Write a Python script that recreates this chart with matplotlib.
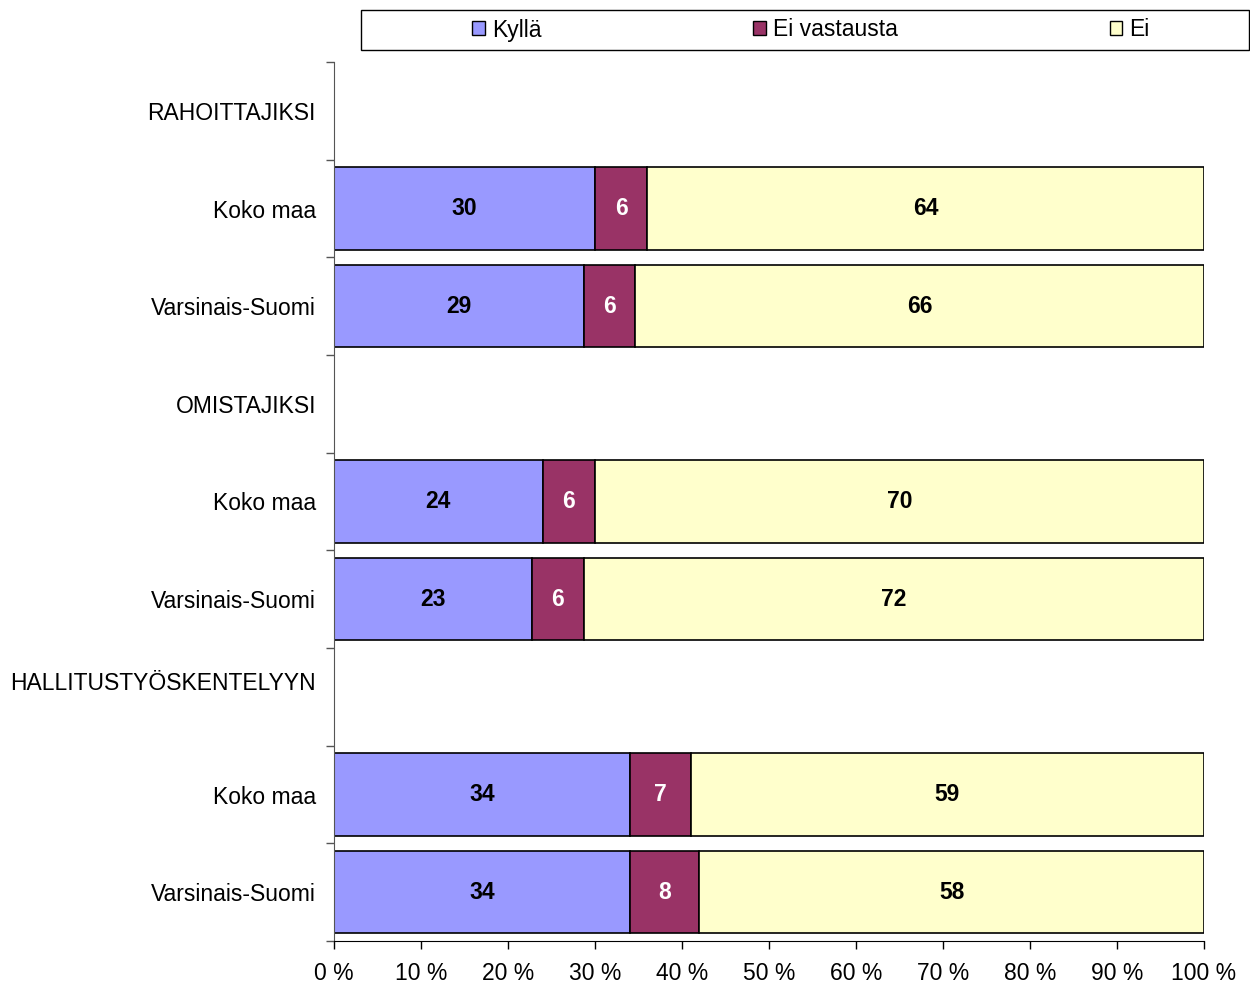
"""Stacked 100 % bar chart: Kyllä / Ei vastausta / Ei."""

import matplotlib.pyplot as plt
import matplotlib.transforms as mtransforms
import numpy as np
from matplotlib.patches import Patch, Rectangle

plt.rcParams["font.family"] = ["Liberation Sans", "DejaVu Sans"]

# rows from top to bottom; None marks a group heading without a bar
row_labels = [
    "RAHOITTAJIKSI", "Koko maa", "Varsinais-Suomi",
    "OMISTAJIKSI", "Koko maa", "Varsinais-Suomi",
    "HALLITUSTYÖSKENTELYYN", "Koko maa", "Varsinais-Suomi",
]
kylla = [None, 30, 29, None, 24, 23, None, 34, 34]
ei_vastausta = [None, 6, 6, None, 6, 6, None, 7, 8]
ei = [None, 64, 66, None, 70, 72, None, 59, 58]

series_names = ["Kyllä", "Ei vastausta", "Ei"]
colors = ["#9999FF", "#993366", "#FFFFCC"]
text_colors = ["black", "white", "black"]
x_ticks = np.arange(0, 101, 10)

fig = plt.figure(figsize=(12.5, 9.84), dpi=100)
ax = fig.add_axes([334 / 1250, 1 - 941 / 984, 870 / 1250, 879 / 984])

n = len(row_labels)
ypos = np.arange(n)
for i in range(n):
    if kylla[i] is None:
        continue
    vals = np.array([kylla[i], ei_vastausta[i], ei[i]], dtype=float)
    pct = vals / vals.sum() * 100  # Excel-style 100 % stacking
    left = 0.0
    for j, w in enumerate(pct):
        ax.barh(ypos[i], w, left=left, height=0.84, color=colors[j],
                edgecolor="black", linewidth=1.2)
        ax.text(left + w / 2, ypos[i], f"{int(vals[j])}", ha="center",
                va="center", fontsize=16.5, fontweight="bold",
                color=text_colors[j])
        left += w

ax.set_xlim(0, 100)
ax.set_ylim(n - 0.5, -0.5)
ax.set_xticks(x_ticks)
ax.set_xticklabels([f"{t} %" for t in x_ticks], fontsize=16.5)
ax.tick_params(axis="x", direction="out", length=6, width=1, pad=9)

ax.set_yticks(ypos)
ax.set_yticklabels(row_labels, fontsize=16.5)
ax.tick_params(axis="y", which="major", length=0, pad=13)
ax.set_yticks(np.arange(n + 1) - 0.5, minor=True)
ax.tick_params(axis="y", which="minor", direction="out", length=6,
               width=1, color="#555555")

# the last heading sits a bit higher than its row centre in the original
lbl = ax.get_yticklabels()[6]
lbl.set_transform(lbl.get_transform()
                  + mtransforms.ScaledTranslation(0, 16 / 100, fig.dpi_scale_trans))

for side in ("top", "right"):
    ax.spines[side].set_visible(False)
ax.spines["left"].set_color("#555555")

# legend frame spans wider than the entries, as in the original
fig.patches.append(Rectangle((361 / 1250, 1 - 50 / 984), 888 / 1250, 40 / 984,
                             transform=fig.transFigure, facecolor="white",
                             edgecolor="black", linewidth=1))
handles = [Patch(facecolor=c, edgecolor="black", linewidth=1) for c in colors]
fig.legend(handles, series_names, loc="center", ncol=3,
           bbox_to_anchor=(811 / 1250, 1 - 30 / 984),
           fontsize=16.5, frameon=False, handlelength=0.55,
           handleheight=0.55, handletextpad=0.3, columnspacing=9.25,
           borderaxespad=0, borderpad=0)

fig.savefig("out.png", dpi=100)
